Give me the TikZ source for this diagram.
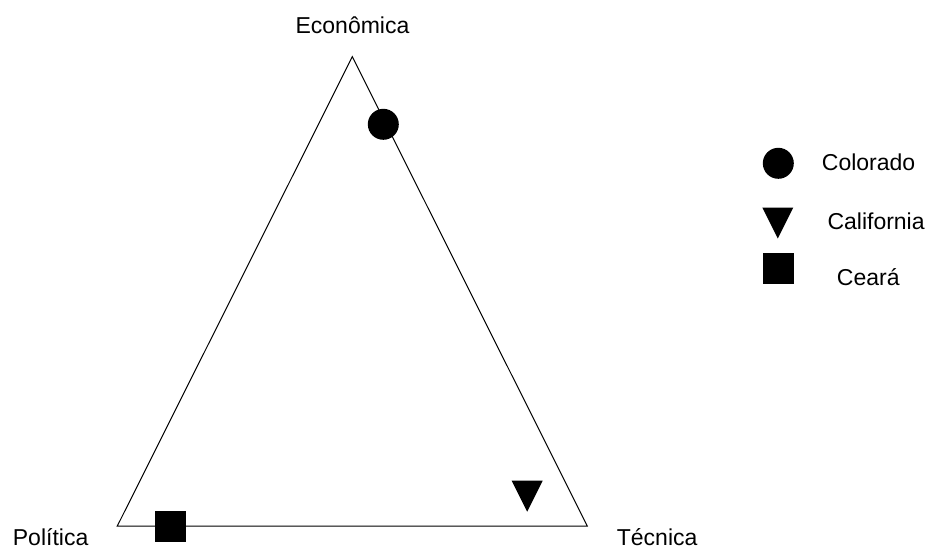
\documentclass[tikz,border=0pt]{standalone}
\usepackage{fontspec}
\setmainfont{Liberation Sans}
\usetikzlibrary{shapes.geometric}

\begin{document}
\begin{tikzpicture}[
    x=1pt, y=-1pt,
    every node/.style={font=\fontsize{23}{27}\selectfont},
    vertextext/.style={inner sep=0pt, anchor=base},
    legendtext/.style={inner sep=0pt, anchor=base west},
    dotmark/.style={circle, fill=black, inner sep=0pt, minimum size=31pt},
    boxmark/.style={rectangle, fill=black, inner sep=0pt, minimum size=31pt},
    side/.style={draw=black, line width=1pt}
]
    \useasboundingbox (0,0) rectangle (929,549);

    % triangle
    \coordinate (eco) at (352.3,56.7);
    \coordinate (pol) at (117.3,526);
    \coordinate (tec) at (587.3,526);
    \draw[side, line join=miter] (eco) -- (pol) -- (tec) -- cycle;

    \node[vertextext] (ecotext) at (352.5,33.3) {Econômica};
    \node[vertextext, anchor=base west] (poltext) at (12.7,545) {Política};
    \node[vertextext, anchor=base west] (tectext) at (616.7,545) {Técnica};

    % states
    \node[dotmark] (colorado) at (383.3,124.3) {};
    \node[boxmark] (ceara) at (170.7,526.2) {};
    \coordinate (california) at (527.2,496.2);
    \fill ([shift={(-15.5,-15.5)}]california) -- ([shift={(15.5,-15.5)}]california)
        -- ([shift={(0,15.5)}]california) -- cycle;

    % legend
    \node[dotmark] (keydot) at (778.3,163.3) {};
    \coordinate (keytri) at (777.8,223);
    \fill ([shift={(-15.5,-15.5)}]keytri) -- ([shift={(15.5,-15.5)}]keytri)
        -- ([shift={(0,15.5)}]keytri) -- cycle;
    \node[boxmark] (keybox) at (778.3,268.7) {};

    \node[legendtext] (keydottext) at (821.7,170) {Colorado};
    \node[legendtext] (keytritext) at (827.3,229.5) {California};
    \node[legendtext] (keyboxtext) at (836.7,285) {Ceará};
\end{tikzpicture}
\end{document}
